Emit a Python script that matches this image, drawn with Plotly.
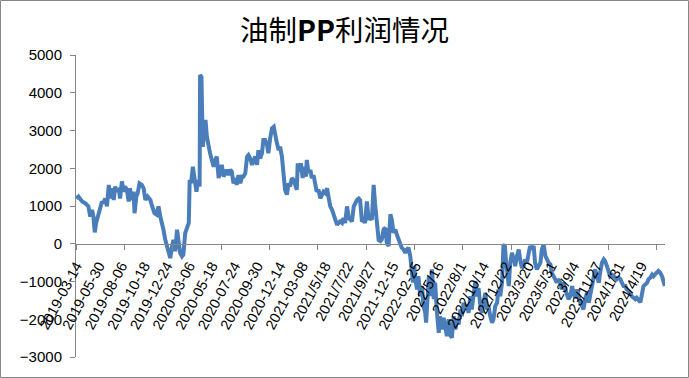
import plotly.graph_objects as go

# ---------------- data ----------------
title_text = "油制<b>PP</b>利润情况"

# trading-day index of each sampled point (0 = 2019-03-14)
days = [
    0, 5, 13, 20, 27, 31, 35, 38, 41, 44, 49, 53, 57, 60, 64, 68, 72, 75, 79, 83,
    86, 90, 94, 97, 101, 105, 108, 112, 116, 119, 123, 127, 129, 133, 136, 140, 145, 149, 153, 158,
    164, 167, 173, 178, 182, 186, 190, 193, 197, 201, 204, 208, 212, 215, 219, 223, 226, 230, 234, 237,
    241, 245, 249, 251, 254, 258, 262, 266, 269, 273, 274, 277, 280, 283, 286, 289, 293, 296, 300, 304,
    308, 311, 315, 319, 322, 326, 330, 333, 337, 341, 344, 348, 352, 355, 359, 363, 367, 370, 374, 378,
    381, 385, 389, 392, 396, 400, 403, 407, 411, 414, 418, 422, 425, 429, 433, 437, 440, 444, 448, 451,
    455, 459, 462, 466, 470, 473, 477, 481, 485, 488, 490, 494, 497, 501, 504, 508, 510, 514, 518, 521,
    525, 529, 532, 536, 540, 544, 547, 551, 555, 558, 562, 566, 569, 573, 577, 580, 584, 588, 591, 595,
    599, 603, 606, 610, 614, 617, 621, 625, 628, 632, 636, 639, 643, 647, 650, 654, 658, 661, 665, 669,
    673, 676, 680, 684, 687, 691, 695, 698, 702, 706, 709, 713, 717, 720, 724, 728, 732, 735, 739, 743,
    745, 748, 750, 754, 757, 761, 765, 768, 772, 774, 777, 780, 783, 787, 791, 794, 798, 802, 805, 809,
    813, 816, 820, 824, 827, 831, 835, 839, 842, 846, 850, 853, 857, 861, 864, 868, 872, 875, 879, 883,
    886, 890, 894, 897, 901, 905, 909, 912, 916, 920, 923, 927, 931, 934, 938, 942, 945, 948, 951, 953,
    957, 960, 964, 968, 971, 975, 979, 982, 986, 990, 993, 997, 1001, 1004, 1008, 1012, 1015, 1019, 1023, 1027,
    1030, 1034, 1038, 1041, 1045, 1049, 1052, 1056, 1060, 1063, 1067, 1071, 1074, 1078, 1082, 1086, 1089, 1093, 1097, 1100,
    1104, 1108, 1111, 1115, 1119, 1122, 1126, 1130, 1134, 1137, 1141, 1145, 1148, 1152, 1156, 1159, 1163, 1167, 1170, 1174,
    1178, 1181, 1185, 1189, 1193, 1196, 1200, 1204, 1207, 1211, 1215, 1218, 1222, 1226, 1229, 1233, 1237, 1240, 1244, 1248,
    1252, 1255, 1259, 1263, 1266, 1270, 1274, 1277, 1280, 1285, 1288, 1292, 1296, 1299, 1302,
]

# oil-based PP profit (yuan/ton)
profit = [
    1200, 1250, 1120, 1075, 990, 720, 900, 720, 300, 550, 770, 990, 1120, 1075, 1200, 990, 1560, 1200, 1470, 1160,
    1515, 1380, 1470, 1200, 1650, 1380, 1515, 1430, 1120, 1470, 1160, 1380, 810, 1250, 1340, 1600, 1560, 1470, 1160, 1250,
    1160, 1030, 810, 770, 990, 720, 550, 370, 105, -70, -250, -380, -70, 105, -200, 370, 105, -250, -335, -290,
    280, 460, 550, 1690, 1600, 2040, 1690, 1380, 1690, 1515, 4470, 4420, 2570, 2970, 3280, 2840, 2480, 2400, 2220, 2040,
    2220, 2310, 1740, 1960, 2090, 1780, 1870, 1960, 1820, 1960, 1910, 1600, 1740, 1560, 1820, 1600, 1780, 1780, 1870, 2310,
    2350, 2260, 2090, 2220, 2310, 2090, 2480, 2260, 2400, 2750, 2750, 2620, 2400, 2790, 3060, 3100, 2840, 2660, 2480, 2570,
    2310, 1780, 1430, 1300, 1600, 1515, 1740, 1690, 1515, 1430, 2130, 1910, 2130, 1740, 2040, 1780, 2220, 1870, 1960, 1740,
    1820, 1515, 1380, 1430, 1200, 1300, 1380, 1340, 1470, 1250, 990, 900, 810, 630, 500, 550, 590, 550, 680, 550,
    990, 680, 630, 590, 990, 1075, 1160, 1200, 1160, 590, 630, 550, 1120, 630, 720, 630, 1560, 1075, 460, 100,
    70, 115, 380, 420, 25, -60, 780, 645, 290, 380, 250, 115, -20, -105, -150, -240, -150, -105, -330, -680,
    -1030, -590, -940, -1210, -860, -1390, -1120, -1650, -1830, -2090, -1300, -860, -1390, -680, -1470, -1030, -1830, -2360, -1920, -2270,
    -1960, -2180, -2450, -2000, -2400, -2490, -1920, -2270, -2000, -2140, -1740, -1920, -1560, -1740, -1600, -1830, -1390, -1740, -1390, -990,
    -1390, -1170, -1650, -1830, -1560, -1300, -1740, -1650, -1920, -2090, -2000, -1650, -1560, -1210, -1390, -1030, -60, -20, -500, -770,
    -1120, -500, -240, -415, -590, -330, -150, -415, -635, -590, -415, -500, -150, -60, -150, -60, -500, -680, -590, -500,
    -150, -20, -330, -415, -500, -550, -770, -860, -940, -1030, -940, -1030, -1210, -1030, -1210, -1390, -1470, -1390, -1120, -1300,
    -1430, -1210, -1390, -1560, -1650, -1740, -1470, -1300, -1560, -1390, -1120, -860, -680, -860, -1030, -770, -500, -415, -460, -590,
    -770, -860, -820, -860, -900, -940, -900, -940, -1030, -1120, -1120, -1210, -1250, -1340, -1390, -1430, -1470, -1430, -1500, -1550,
    -1300, -1120, -1080, -1030, -940, -900, -820, -860, -820, -770, -720, -770, -860, -990, -1120,
]

date_labels = [
    "2019-03-14", "2019-05-30", "2019-08-06", "2019-10-18", "2019-12-24", "2020-03-06",
    "2020-05-18", "2020-07-24", "2020-09-30", "2020-12-14", "2021-03-08", "2021/5/18",
    "2021/7/22", "2021/9/27", "2021-12-15", "2022-02-25", "2022/5/16", "2022/8/1",
    "2022/10/14", "2022/12/22", "2023/3/20", "2023/5/31", "2023/9/4", "2023/11/27",
    "2024/1/31", "2024/4/19",
]
N_DAYS = 1303          # number of trading days on the category axis
LABEL_EVERY = 50       # category label interval
TICK_EVERY = 107       # tick-mark interval

y_ticks = [-3000, -2000, -1000, 0, 1000, 2000, 3000, 4000, 5000]

# ---------------- figure ----------------
AXIS_GRAY = "#868686"
W, H = 689, 378
L, R, T, B = 76, 24, 55, 21
pw, ph = W - L - R, H - T - B

fig = go.Figure(
    go.Scatter(
        x=days, y=profit, mode="lines",
        line=dict(color="#4A7EBB", width=4),
        hoverinfo="x+y", showlegend=False,
    )
)

label_pos = [i * LABEL_EVERY for i in range(len(date_labels))]

fig.update_layout(
    width=W, height=H,
    margin=dict(l=L, r=R, t=T, b=B, autoexpand=False),
    paper_bgcolor="white", plot_bgcolor="white",
    title=dict(
        text=title_text, x=0.5, xref="container", xanchor="center",
        y=1 - 31 / H, yref="container", yanchor="middle",
        font=dict(family="Noto Sans CJK SC", size=28.5, color="black"),
    ),
    font=dict(family="Liberation Sans", color="black"),
    xaxis=dict(
        range=[-0.5, N_DAYS - 0.5], automargin=False,
        anchor="free", position=3000 / 8000,
        showline=True, linecolor=AXIS_GRAY, linewidth=1,
        showgrid=False, zeroline=False,
        tickmode="array", tickvals=label_pos, ticktext=date_labels,
        ticks="", tickangle=-62, ticklabelstandoff=7,
        tickfont=dict(size=14.5, color="black", family="Liberation Sans"),
        minor=dict(tick0=-0.5, dtick=TICK_EVERY, ticks="outside",
                   ticklen=5, tickcolor=AXIS_GRAY, tickwidth=1, showgrid=False),
    ),
    yaxis=dict(
        range=[-3000, 5000], domain=[0, 1], automargin=False,
        tickmode="array", tickvals=y_ticks,
        ticks="outside", ticklen=5, tickcolor=AXIS_GRAY,
        showline=True, linecolor=AXIS_GRAY, linewidth=1,
        showgrid=False, zeroline=False, ticklabelstandoff=5,
        tickfont=dict(size=15, color="black", family="Liberation Sans"),
    ),
    shapes=[dict(
        type="rect", xref="paper", yref="paper", layer="above",
        x0=(-L + 0.5) / pw, x1=1 + (R - 0.5) / pw,
        y0=(-B + 0.5) / ph, y1=1 + (T - 0.5) / ph,
        line=dict(color=AXIS_GRAY, width=1), fillcolor="rgba(0,0,0,0)",
    )],
)

fig.write_html(
    "out.html",
    config={"displayModeBar": False},
    post_script="document.body.style.margin='0';document.body.style.overflow='hidden';",
)
